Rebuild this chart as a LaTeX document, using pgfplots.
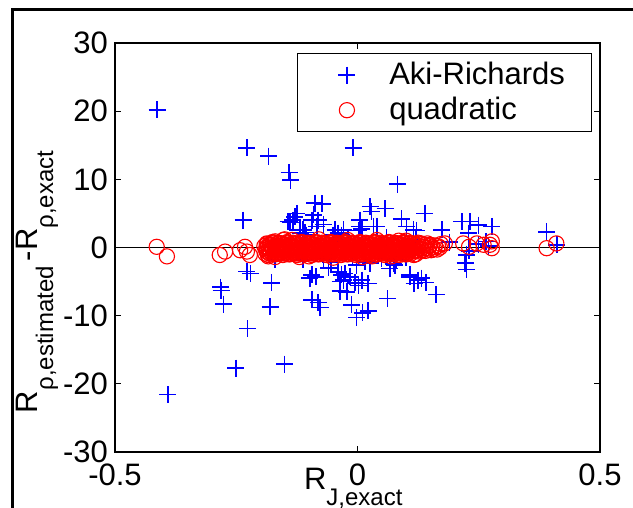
\documentclass[border=0pt]{standalone}
\usepackage{fontspec}
\setmainfont{Liberation Sans}
\usepackage{pgfplots}
\pgfplotsset{compat=1.18}

\newcommand{\sub}[1]{\raisebox{-8pt}{\fontsize{12}{14}\selectfont #1}}

\begin{document}
\begin{tikzpicture}
\useasboundingbox (-57.5pt,-28pt) rectangle (259pt,226pt);
\draw[line width=1.4pt] (-51.1pt,-60pt) -- (-51.1pt,221.15pt) -- (300pt,221.15pt);
\begin{axis}[
    at={(0pt,0pt)}, anchor=south west,
    scale only axis, width=242.5pt, height=204.5pt,
    xmin=-0.5, xmax=0.5, ymin=-30, ymax=30,
    xtick={-0.5,0,0.5}, ytick={-30,-20,-10,0,10,20,30},
    tick align=inside, major tick length=3pt,
    xtick pos=both, ytick pos=both,
    axis line style={line width=0.6pt},
    every tick/.style={black, line width=0.6pt},
    /pgf/number format/assume math mode=true,
    tick label style={font=\fontsize{15.5}{18}\selectfont},
    xticklabel style={yshift=-2.3pt},
    xlabel={R\sub{J,exact}},
    xlabel style={at={(axis description cs:0.3889,-0.0929)}, anchor=base west, inner sep=0pt, font=\fontsize{15.5}{18}\selectfont},
    ylabel={R\sub{ρ,estimated}\,-R\sub{ρ,exact}},
    ylabel style={at={(axis description cs:-0.1608,0.0943)}, anchor=base west, inner sep=0pt, font=\fontsize{15.5}{18}\selectfont},
    legend style={at={(0.9835,0.9756)}, anchor=north east, draw=black, line width=0.6pt,
        font=\fontsize{15.5}{18}\selectfont, inner xsep=11.2pt, inner ysep=2.4pt, row sep=0.8pt},
    legend cell align=left,
    legend image code/.code={\path (-13pt,0pt) (18.8pt,0pt); \draw[#1, only marks] plot coordinates {(0pt,0pt)};},
]
% Aki-Richards
\addplot[only marks, mark=+, blue, mark size=4.25pt, line width=0.75pt] coordinates {
(-0.413,20.2)(-0.228,14.6)(-0.183,13.4)(-0.141,11.0)(-0.138,9.9)(-0.009,14.6)(0.083,9.3)
(-0.236,4.0)(-0.088,6.5)(-0.073,6.4)(-0.125,5.0)(-0.091,4.8)(-0.081,4.0)(-0.143,3.8)
(-0.133,4.0)(-0.129,4.5)(-0.070,3.4)(-0.084,3.1)(-0.119,2.6)(-0.108,2.2)(-0.112,2.6)
(-0.105,1.8)(-0.046,2.6)(-0.029,2.6)(-0.040,2.1)(-0.050,1.8)(-0.033,1.8)(0.005,4.0)
(0.005,3.1)(0.009,2.7)(0.002,2.5)(0.026,6.0)(0.029,5.3)(0.057,5.7)(0.033,3.1)(0.040,3.1)
(0.091,4.2)(0.101,3.1)(0.115,2.6)(0.122,2.5)(0.139,5.0)(0.174,2.6)(0.215,3.8)(0.232,3.8)
(0.249,3.3)(0.277,3.1)(0.229,2.1)(0.390,2.3)(0.411,0.4)(-0.118,2.1)(-0.094,4.0)(-0.139,3.7)
(-0.020,1.2)(0.060,1.5)(0.120,1.2)(0.190,0.8)(0.265,0.9)(0.250,0.5)(0.230,-0.5)(0.270,0.2)
(0.100,-1.4)(0.050,-1.6)(-0.070,-1.7)(-0.010,-1.5)
(-0.391,-21.6)(-0.251,-17.7)(-0.150,-17.1)(-0.227,-11.9)(-0.282,-5.8)(-0.281,-6.3)
(-0.276,-8.3)(-0.228,-3.5)(-0.221,-3.8)(-0.177,-5.2)(-0.180,-8.7)(-0.170,-1.8)(-0.112,-1.8)
(-0.094,-4.0)(-0.086,-4.3)(-0.098,-4.5)(-0.094,-7.7)(-0.081,-8.1)(-0.077,-8.8)(-0.040,-3.6)
(-0.033,-4.0)(-0.026,-3.8)(-0.036,-5.0)(-0.029,-4.8)(-0.015,-4.3)(-0.036,-6.4)(-0.022,-6.5)
(-0.005,-5.2)(0.002,-5.6)(-0.012,-8.4)(-0.002,-10.3)(0.010,-9.6)(0.022,-9.3)(0.009,-4.8)
(0.022,-5.3)(0.062,-7.5)(0.074,-2.4)(0.067,-3.1)(0.077,-2.6)(0.079,-1.8)(0.108,-4.0)
(0.108,-4.3)(0.117,-5.3)(0.125,-4.8)(0.132,-4.5)(0.141,-5.1)(0.162,-6.9)(0.015,-2.1)
(-0.002,-2.6)(0.026,-2.3)(0.225,-3.2)(0.225,-1.1)(0.222,-2.3)(-0.055,-2.2)(-0.060,-3.0)
};
\addlegendentry{Aki-Richards}
% quadratic
\addplot[only marks, mark=o, red, mark size=3.8pt, line width=0.55pt] coordinates {
(-0.414,0.1)(-0.393,-1.3)(-0.284,-1.1)(-0.273,-0.6)(-0.242,-0.4)(-0.228,-0.6)(-0.222,-1.1)
(-0.232,0.1)(-0.187,-0.6)(-0.184,-1.3)(-0.170,0.9)(-0.153,1.1)(0.390,-0.1)(0.410,0.6)
(0.180,0.6)(0.218,0.6)(0.230,0.1)(0.246,0.6)(0.260,0.4)(0.277,0.9)(0.277,-0.1)(0.273,0.4)
(-0.150,1.2)(-0.120,-1.4)(-0.080,1.2)(-0.050,-1.5)(-0.020,1.1)(0.010,-1.4)(0.040,1.1)
(0.070,-1.3)(0.100,1.0)(-0.170,-1.4)(-0.100,-1.3)(0.030,-1.3)(0.120,-1.0)(-0.135,1.1)(0.085,1.0)
(-0.190,-0.9)(-0.188,-0.3)(-0.192,0.2)(-0.187,0.6)
(-0.184,-1.1)(-0.182,-0.5)(-0.186,0.0)(-0.181,0.5)
(-0.178,-0.7)(-0.176,-0.1)(-0.180,0.4)(-0.175,0.8)
(-0.172,-1.0)(-0.170,-0.6)(-0.174,-0.2)(-0.169,0.3)
(-0.166,-0.8)(-0.164,-0.4)(-0.168,0.1)(-0.163,0.7)
(-0.160,-0.9)(-0.158,-0.3)(-0.162,0.2)(-0.157,0.6)
(-0.154,-1.1)(-0.152,-0.5)(-0.156,0.0)(-0.151,0.5)
(-0.148,-0.7)(-0.146,-0.1)(-0.150,0.4)(-0.145,0.8)
(-0.142,-1.0)(-0.140,-0.6)(-0.144,-0.2)(-0.139,0.3)
(-0.136,-0.8)(-0.134,-0.4)(-0.138,0.1)(-0.133,0.7)
(-0.130,-0.9)(-0.128,-0.3)(-0.132,0.2)(-0.127,0.6)
(-0.124,-1.1)(-0.122,-0.5)(-0.126,0.0)(-0.121,0.5)
(-0.118,-0.7)(-0.116,-0.1)(-0.120,0.4)(-0.115,0.8)
(-0.112,-1.0)(-0.110,-0.6)(-0.114,-0.2)(-0.109,0.3)
(-0.106,-0.8)(-0.104,-0.4)(-0.108,0.1)(-0.103,0.7)
(-0.100,-0.9)(-0.098,-0.3)(-0.102,0.2)(-0.097,0.6)
(-0.094,-1.1)(-0.092,-0.5)(-0.096,0.0)(-0.091,0.5)
(-0.088,-0.7)(-0.086,-0.1)(-0.090,0.4)(-0.085,0.8)
(-0.082,-1.0)(-0.080,-0.6)(-0.084,-0.2)(-0.079,0.3)
(-0.076,-0.8)(-0.074,-0.4)(-0.078,0.1)(-0.073,0.7)
(-0.070,-0.9)(-0.068,-0.3)(-0.072,0.2)(-0.067,0.6)
(-0.064,-1.1)(-0.062,-0.5)(-0.066,0.0)(-0.061,0.5)
(-0.058,-0.7)(-0.056,-0.1)(-0.060,0.4)(-0.055,0.8)
(-0.052,-1.0)(-0.050,-0.6)(-0.054,-0.2)(-0.049,0.3)
(-0.046,-0.8)(-0.044,-0.4)(-0.048,0.1)(-0.043,0.7)
(-0.040,-0.9)(-0.038,-0.3)(-0.042,0.2)(-0.037,0.6)
(-0.034,-1.1)(-0.032,-0.5)(-0.036,0.0)(-0.031,0.5)
(-0.028,-0.7)(-0.026,-0.1)(-0.030,0.4)(-0.025,0.8)
(-0.022,-1.0)(-0.020,-0.6)(-0.024,-0.2)(-0.019,0.3)
(-0.016,-0.8)(-0.014,-0.4)(-0.018,0.1)(-0.013,0.7)
(-0.010,-0.9)(-0.008,-0.3)(-0.012,0.2)(-0.007,0.6)
(-0.004,-1.1)(-0.002,-0.5)(-0.006,0.0)(-0.001,0.5)
(0.002,-0.7)(0.004,-0.1)(0.000,0.4)(0.005,0.8)
(0.008,-1.0)(0.010,-0.6)(0.006,-0.2)(0.011,0.3)
(0.014,-0.8)(0.016,-0.4)(0.012,0.1)(0.017,0.7)
(0.020,-0.9)(0.022,-0.3)(0.018,0.2)(0.023,0.6)
(0.026,-1.1)(0.028,-0.5)(0.024,0.0)(0.029,0.5)
(0.032,-0.7)(0.034,-0.1)(0.030,0.4)(0.035,0.8)
(0.038,-1.0)(0.040,-0.6)(0.036,-0.2)(0.041,0.3)
(0.044,-0.8)(0.046,-0.4)(0.042,0.1)(0.047,0.7)
(0.050,-0.9)(0.052,-0.3)(0.048,0.2)(0.053,0.6)
(0.056,-1.1)(0.058,-0.5)(0.054,0.0)(0.059,0.5)
(0.062,-0.7)(0.064,-0.1)(0.060,0.4)(0.065,0.8)
(0.068,-1.0)(0.070,-0.6)(0.066,-0.2)(0.071,0.3)
(0.074,-0.8)(0.076,-0.4)(0.072,0.1)(0.077,0.7)
(0.080,-0.9)(0.082,-0.3)(0.078,0.2)(0.083,0.6)
(0.086,-1.1)(0.088,-0.5)(0.084,0.0)(0.089,0.5)
(0.092,-0.7)(0.094,-0.1)(0.090,0.4)(0.095,0.8)
(0.098,-1.0)(0.100,-0.6)(0.096,-0.2)(0.101,0.3)
(0.104,-0.8)(0.106,-0.4)(0.102,0.1)(0.107,0.7)
(0.110,-0.9)(0.112,-0.3)(0.108,0.2)(0.113,0.6)
(0.116,-1.1)(0.118,-0.5)(0.114,0.0)(0.119,0.5)
(0.122,-0.5)(0.124,-0.1)(0.120,0.4)(0.125,0.7)
(0.128,-0.6)(0.130,-0.2)(0.126,0.3)(0.131,0.6)
(0.134,-0.4)(0.136,0.1)(0.132,0.5)
(0.140,-0.5)(0.142,-0.1)(0.138,0.4)
(0.146,-0.3)(0.148,0.2)(0.144,0.6)
(0.152,-0.4)(0.154,0.0)(0.150,0.4)
(0.158,-0.2)(0.160,0.3)
(0.164,-0.3)(0.166,0.2)
(0.170,0.0)(0.172,0.5)
(-0.187,-0.6)(-0.188,0.0)(-0.186,0.5)
(-0.181,-0.9)(-0.182,-0.2)(-0.180,0.3)
(-0.175,-0.4)(-0.176,0.2)(-0.174,0.7)
(-0.169,-1.0)(-0.170,-0.3)(-0.168,0.1)
(-0.163,-0.7)(-0.164,0.0)(-0.162,0.6)
(-0.157,-0.6)(-0.158,0.0)(-0.156,0.5)
(-0.151,-0.9)(-0.152,-0.2)(-0.150,0.3)
(-0.145,-0.4)(-0.146,0.2)(-0.144,0.7)
(-0.139,-1.0)(-0.140,-0.3)(-0.138,0.1)
(-0.133,-0.7)(-0.134,0.0)(-0.132,0.6)
(-0.127,-0.6)(-0.128,0.0)(-0.126,0.5)
(-0.121,-0.9)(-0.122,-0.2)(-0.120,0.3)
(-0.115,-0.4)(-0.116,0.2)(-0.114,0.7)
(-0.109,-1.0)(-0.110,-0.3)(-0.108,0.1)
(-0.103,-0.7)(-0.104,0.0)(-0.102,0.6)
(-0.097,-0.6)(-0.098,0.0)(-0.096,0.5)
(-0.091,-0.9)(-0.092,-0.2)(-0.090,0.3)
(-0.085,-0.4)(-0.086,0.2)(-0.084,0.7)
(-0.079,-1.0)(-0.080,-0.3)(-0.078,0.1)
(-0.073,-0.7)(-0.074,0.0)(-0.072,0.6)
(-0.067,-0.6)(-0.068,0.0)(-0.066,0.5)
(-0.061,-0.9)(-0.062,-0.2)(-0.060,0.3)
(-0.055,-0.4)(-0.056,0.2)(-0.054,0.7)
(-0.049,-1.0)(-0.050,-0.3)(-0.048,0.1)
(-0.043,-0.7)(-0.044,0.0)(-0.042,0.6)
(-0.037,-0.6)(-0.038,0.0)(-0.036,0.5)
(-0.031,-0.9)(-0.032,-0.2)(-0.030,0.3)
(-0.025,-0.4)(-0.026,0.2)(-0.024,0.7)
(-0.019,-1.0)(-0.020,-0.3)(-0.018,0.1)
(-0.013,-0.7)(-0.014,0.0)(-0.012,0.6)
(-0.007,-0.6)(-0.008,0.0)(-0.006,0.5)
(-0.001,-0.9)(-0.002,-0.2)(0.000,0.3)
(0.005,-0.4)(0.004,0.2)(0.006,0.7)
(0.011,-1.0)(0.010,-0.3)(0.012,0.1)
(0.017,-0.7)(0.016,0.0)(0.018,0.6)
(0.023,-0.6)(0.022,0.0)(0.024,0.5)
(0.029,-0.9)(0.028,-0.2)(0.030,0.3)
(0.035,-0.4)(0.034,0.2)(0.036,0.7)
(0.041,-1.0)(0.040,-0.3)(0.042,0.1)
(0.047,-0.7)(0.046,0.0)(0.048,0.6)
(0.053,-0.6)(0.052,0.0)(0.054,0.5)
(0.059,-0.9)(0.058,-0.2)(0.060,0.3)
(0.065,-0.4)(0.064,0.2)(0.066,0.7)
(0.071,-1.0)(0.070,-0.3)(0.072,0.1)
(0.077,-0.7)(0.076,0.0)(0.078,0.6)
(0.083,-0.6)(0.082,0.0)(0.084,0.5)
(0.089,-0.9)(0.088,-0.2)(0.090,0.3)
(0.095,-0.4)(0.094,0.2)(0.096,0.7)
(0.101,-1.0)(0.100,-0.3)(0.102,0.1)
(0.107,-0.7)(0.106,0.0)(0.108,0.6)
(0.113,-0.6)(0.112,0.0)(0.114,0.5)
(0.119,-0.5)(0.118,-0.1)(0.120,0.3)
};
\addlegendentry{quadratic}
\addplot[black, line width=0.6pt, forget plot] coordinates {(-0.5,0)(0.5,0)};
\end{axis}
\end{tikzpicture}
\end{document}
